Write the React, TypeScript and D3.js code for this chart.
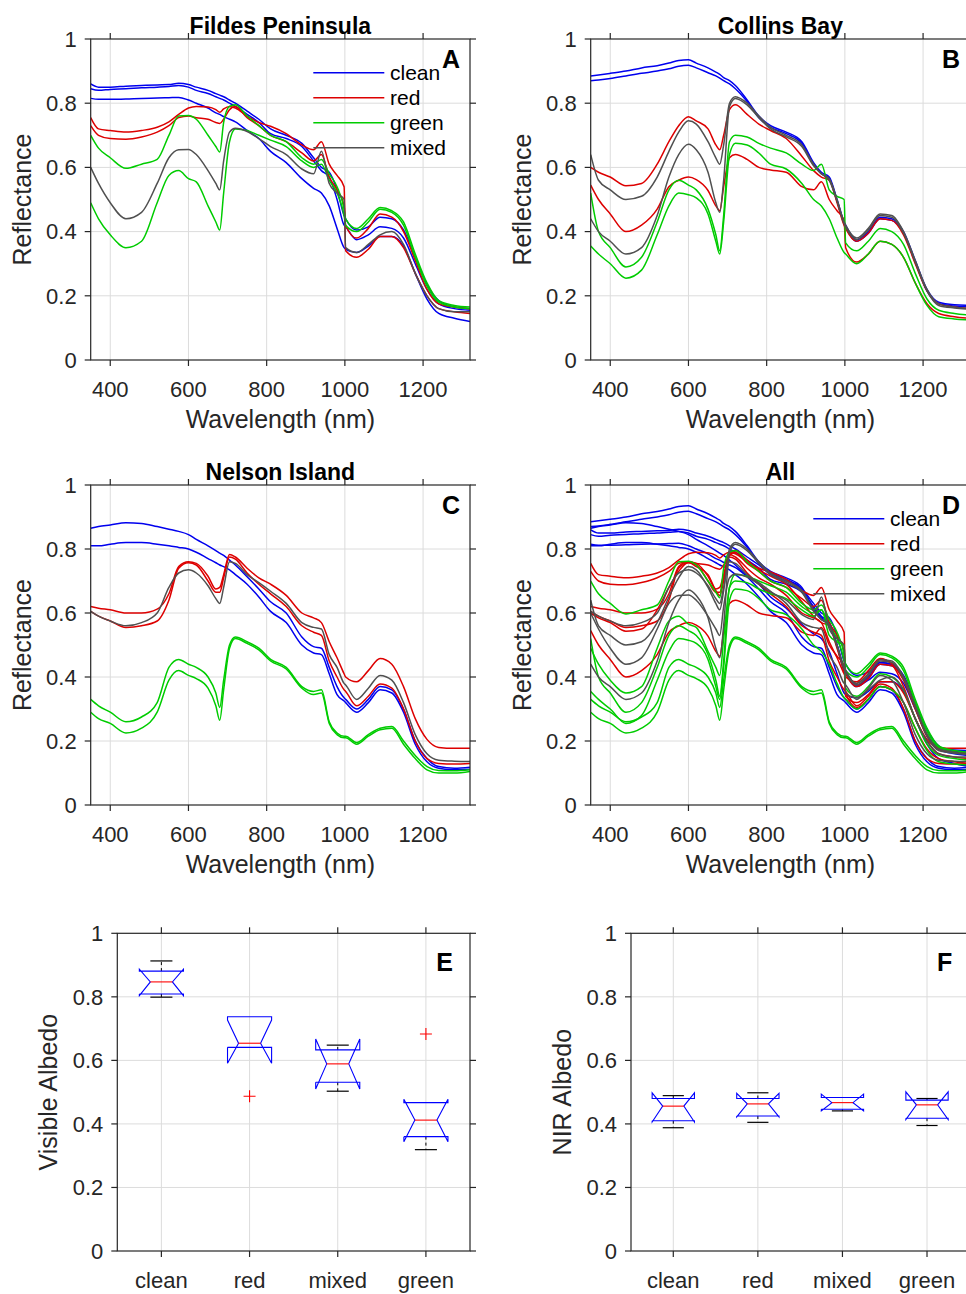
import React from "react";
import * as d3 from "d3";

// ---------- DATA ----------
const WAVELENGTHS = [350, 370, 400, 440, 480, 520, 550, 575, 600, 620, 650, 670, 680, 690, 705, 720, 750, 780, 810, 850, 890, 920, 940, 960, 980, 998, 1002, 1030, 1060, 1090, 1120, 1150, 1180, 1210, 1240, 1280, 1320];

// Fildes Peninsula
const fildesClean = [
  [.86, .85, .85, .853, .855, .857, .858, .862, .858, .85, .84, .83, .825, .82, .81, .80, .775, .75, .72, .70, .675, .63, .60, .585, .53, .45, .44, .405, .415, .445, .44, .405, .32, .235, .185, .165, .16],
  [.845, .84, .843, .845, .848, .85, .852, .855, .85, .84, .83, .82, .815, .81, .80, .79, .765, .74, .705, .69, .665, .62, .59, .57, .50, .42, .415, .375, .39, .415, .41, .38, .30, .22, .175, .16, .155],
  [.815, .812, .812, .813, .815, .816, .817, .818, .81, .80, .785, .77, .765, .758, .75, .742, .715, .69, .65, .615, .565, .535, .52, .48, .41, .35, .345, .335, .355, .385, .385, .355, .27, .19, .145, .13, .12],
];
const fildesRed = [
  [.755, .72, .715, .71, .715, .725, .742, .765, .785, .79, .788, .78, .772, .782, .79, .785, .76, .74, .728, .705, .67, .655, .68, .61, .575, .54, .34, .32, .345, .385, .385, .35, .27, .20, .16, .15, .145],
  [.73, .70, .69, .688, .695, .71, .73, .755, .76, .755, .75, .74, .737, .75, .78, .79, .755, .73, .70, .68, .645, .62, .64, .57, .53, .48, .42, .38, .41, .455, .445, .40, .31, .22, .175, .165, .16],
];
const fildesGreen = [
  [.70, .66, .63, .597, .61, .625, .70, .76, .762, .75, .70, .665, .648, .74, .79, .795, .76, .73, .70, .68, .63, .61, .625, .58, .54, .47, .44, .41, .44, .475, .465, .43, .33, .24, .185, .17, .165],
  [.49, .44, .39, .35, .37, .49, .575, .59, .565, .555, .48, .43, .405, .52, .68, .72, .715, .70, .685, .665, .62, .60, .61, .56, .52, .45, .42, .40, .43, .47, .46, .42, .32, .23, .18, .165, .16],
];
const fildesMixed = [
  [.60, .55, .49, .44, .46, .55, .63, .655, .656, .64, .59, .55, .53, .62, .71, .722, .712, .69, .665, .64, .595, .58, .65, .55, .52, .50, .35, .335, .36, .39, .40, .36, .27, .20, .16, .15, .15],
];

// Collins Bay
const collinsClean = [
  [.885, .888, .893, .90, .91, .917, .925, .933, .935, .925, .91, .897, .89, .88, .87, .855, .81, .76, .73, .71, .68, .615, .585, .57, .50, .43, .42, .375, .40, .445, .44, .40, .31, .22, .18, .172, .17],
  [.87, .872, .877, .885, .893, .90, .907, .915, .918, .91, .895, .885, .878, .87, .86, .845, .805, .755, .725, .705, .675, .61, .58, .565, .495, .425, .415, .37, .395, .44, .435, .395, .305, .215, .175, .168, .165],
];
const collinsRed = [
  [.60, .585, .57, .543, .55, .61, .68, .73, .758, .745, .72, .67, .655, .70, .78, .795, .765, .735, .715, .69, .635, .59, .57, .56, .49, .42, .41, .37, .395, .44, .435, .39, .30, .215, .175, .165, .16],
  [.545, .50, .455, .40, .42, .47, .54, .56, .57, .562, .528, .48, .465, .54, .63, .64, .625, .60, .592, .585, .54, .53, .555, .50, .465, .435, .35, .305, .33, .37, .36, .32, .24, .175, .145, .135, .13],
];
const collinsGreen = [
  [.52, .40, .35, .29, .32, .43, .53, .56, .545, .53, .47, .39, .34, .45, .68, .70, .695, .675, .66, .645, .61, .59, .61, .53, .51, .50, .365, .34, .37, .41, .40, .36, .27, .19, .155, .145, .14],
  [.355, .33, .30, .255, .28, .39, .48, .52, .515, .505, .455, .37, .33, .43, .64, .675, .67, .645, .61, .595, .55, .50, .48, .44, .38, .335, .33, .30, .33, .37, .36, .32, .24, .17, .135, .128, .125],
];
const collinsMixed = [
  [.64, .56, .53, .50, .51, .57, .65, .71, .745, .735, .68, .63, .61, .67, .80, .82, .80, .76, .725, .70, .67, .61, .58, .565, .50, .43, .42, .38, .41, .455, .45, .40, .31, .22, .175, .165, .16],
  [.44, .40, .37, .33, .35, .45, .57, .64, .672, .655, .585, .49, .46, .56, .79, .815, .795, .755, .72, .695, .665, .605, .58, .56, .495, .425, .415, .375, .405, .45, .445, .395, .305, .215, .17, .162, .158],
];

// Nelson Island
const nelsonClean = [
  [.865, .87, .875, .882, .88, .87, .862, .855, .845, .83, .81, .795, .787, .78, .765, .75, .713, .675, .635, .60, .525, .495, .49, .43, .37, .335, .33, .30, .33, .37, .36, .30, .20, .145, .12, .115, .118],
  [.81, .81, .815, .82, .82, .815, .81, .805, .80, .79, .77, .757, .75, .745, .735, .72, .69, .65, .605, .57, .50, .475, .47, .41, .345, .325, .32, .29, .32, .36, .35, .29, .19, .135, .115, .11, .112],
];
const nelsonRed = [
  [.62, .615, .61, .60, .60, .612, .66, .745, .76, .755, .715, .675, .68, .72, .783, .775, .74, .71, .69, .655, .60, .585, .57, .51, .46, .41, .40, .385, .42, .458, .44, .37, .27, .205, .18, .177, .177],
  [.605, .59, .575, .555, .56, .575, .64, .74, .757, .75, .70, .665, .665, .71, .775, .768, .725, .69, .66, .62, .56, .54, .53, .45, .40, .36, .355, .31, .34, .378, .365, .30, .20, .145, .13, .128, .13],
];
const nelsonGreen = [
  [.33, .31, .29, .26, .275, .32, .43, .455, .44, .43, .40, .35, .305, .39, .50, .525, .51, .49, .455, .43, .37, .355, .36, .26, .225, .215, .215, .195, .22, .24, .245, .20, .155, .12, .108, .107, .11],
  [.29, .27, .255, .225, .24, .29, .39, .42, .405, .395, .365, .31, .265, .36, .49, .52, .505, .485, .45, .425, .365, .345, .35, .255, .22, .21, .21, .19, .215, .235, .24, .19, .145, .11, .10, .10, .105],
];
const nelsonMixed = [
  [.605, .59, .575, .56, .57, .60, .68, .725, .735, .725, .685, .645, .63, .68, .76, .755, .72, .695, .668, .63, .57, .555, .55, .47, .43, .38, .375, .33, .365, .405, .39, .32, .22, .16, .14, .137, .136],
];

const X_TICKS = [400, 600, 800, 1000, 1200];
const Y_TICKS = [0, 0.2, 0.4, 0.6, 0.8, 1];
const LEGEND_LABELS = ["clean", "red", "green", "mixed"];

// Box plots
const BOX_CATEGORIES = ["clean", "red", "mixed", "green"];
const visibleMedian = [0.847, 0.654, 0.589, 0.412];
const visibleQ1 = [0.809, 0.641, 0.531, 0.36];
const visibleQ3 = [0.881, 0.7375, 0.633, 0.467];
const visibleNotchLo = [0.804, 0.591, 0.51, 0.344];
const visibleNotchHi = [0.887, 0.727, 0.667, 0.478];
const visibleWhiskerLo = [0.799, 0.641, 0.503, 0.319];
const visibleWhiskerHi = [0.913, 0.7375, 0.648, 0.467];
const visibleOutliers = [[], [0.487], [], [0.683]];

const nirMedian = [0.456, 0.463, 0.467, 0.46];
const nirQ1 = [0.41, 0.425, 0.446, 0.418];
const nirQ3 = [0.48, 0.48, 0.483, 0.475];
const nirNotchLo = [0.406, 0.422, 0.441, 0.414];
const nirNotchHi = [0.498, 0.496, 0.494, 0.501];
const nirWhiskerLo = [0.388, 0.405, 0.441, 0.395];
const nirWhiskerHi = [0.489, 0.498, 0.483, 0.48];
const nirOutliers = [[], [], [], []];

// ---------- STYLE ----------
const FONT = "'Liberation Sans', Arial, Helvetica, sans-serif";
const AXIS = "#262626";
const GRID = "#dcdcdc";
const COLORS = { clean: "#0000ee", red: "#dd0000", green: "#00cc00", mixed: "#505050" };

type Series = { color: string; values: number[] };

function groupSeries(clean: number[][], red: number[][], green: number[][], mixed: number[][]): Series[] {
  return [
    ...clean.map((v) => ({ color: COLORS.clean, values: v })),
    ...red.map((v) => ({ color: COLORS.red, values: v })),
    ...green.map((v) => ({ color: COLORS.green, values: v })),
    ...mixed.map((v) => ({ color: COLORS.mixed, values: v })),
  ];
}

function Frame({ left, right, top, bottom, xTicks, yTicks, x, y }: any) {
  const tl = 6;
  return (
    <g>
      <rect x={left} y={top} width={right - left} height={bottom - top} fill="none" stroke={AXIS} strokeWidth={1.2} />
      {xTicks.map((t: number) => (
        <g key={"xt" + t}>
          <line x1={x(t)} x2={x(t)} y1={bottom} y2={bottom + tl} stroke={AXIS} strokeWidth={1.2} />
          <line x1={x(t)} x2={x(t)} y1={top} y2={top - tl} stroke={AXIS} strokeWidth={1.2} />
        </g>
      ))}
      {yTicks.map((t: number) => (
        <g key={"yt" + t}>
          <line x1={left - tl} x2={left} y1={y(t)} y2={y(t)} stroke={AXIS} strokeWidth={1.2} />
          <line x1={right} x2={right + tl} y1={y(t)} y2={y(t)} stroke={AXIS} strokeWidth={1.2} />
        </g>
      ))}
    </g>
  );
}

function Grid({ left, right, top, bottom, xTicks, yTicks, x, y }: any) {
  return (
    <g>
      {xTicks.map((t: number) => (
        <line key={"gx" + t} x1={x(t)} x2={x(t)} y1={top} y2={bottom} stroke={GRID} strokeWidth={1} />
      ))}
      {yTicks.filter((t: number) => t > 0 && t < 1).map((t: number) => (
        <line key={"gy" + t} x1={left} x2={right} y1={y(t)} y2={y(t)} stroke={GRID} strokeWidth={1} />
      ))}
    </g>
  );
}

function YTickLabels({ left, y, yTicks }: any) {
  return (
    <g>
      {yTicks.map((t: number) => (
        <text key={"yl" + t} x={left - 14} y={y(t)} dy="0.35em" textAnchor="end" fontSize={22} fill={AXIS} fontFamily={FONT}>
          {String(t)}
        </text>
      ))}
    </g>
  );
}

function SpectraPanel({ left, right, top, bottom, title, letter, series, legend }: any) {
  const x = d3.scaleLinear().domain([350, 1320]).range([left, right]);
  const y = d3.scaleLinear().domain([0, 1]).range([bottom, top]);
  const line = d3
    .line<[number, number]>()
    .x((d) => x(d[0]))
    .y((d) => y(d[1]))
    .curve(d3.curveMonotoneX);
  const clipId = "clip-" + letter;
  const legendColors = [COLORS.clean, COLORS.red, COLORS.green, COLORS.mixed];
  return (
    <g>
      <defs>
        <clipPath id={clipId}>
          <rect x={left} y={top} width={right - left} height={bottom - top} />
        </clipPath>
      </defs>
      <Grid left={left} right={right} top={top} bottom={bottom} xTicks={X_TICKS} yTicks={Y_TICKS} x={x} y={y} />
      <g clipPath={`url(#${clipId})`}>
        {series.map((s: Series, i: number) => (
          <path
            key={i}
            d={line(WAVELENGTHS.map((w, j) => [w, s.values[j]] as [number, number])) || ""}
            fill="none"
            stroke={s.color}
            strokeWidth={1.5}
            strokeLinejoin="round"
          />
        ))}
      </g>
      <Frame left={left} right={right} top={top} bottom={bottom} xTicks={X_TICKS} yTicks={Y_TICKS} x={x} y={y} />
      {X_TICKS.map((t) => (
        <text key={"xl" + t} x={x(t)} y={bottom + 37} textAnchor="middle" fontSize={22} fill={AXIS} fontFamily={FONT}>
          {t}
        </text>
      ))}
      <YTickLabels left={left} y={y} yTicks={Y_TICKS} />
      <text x={(left + right) / 2} y={bottom + 68} textAnchor="middle" fontSize={25} fill={AXIS} fontFamily={FONT}>
        Wavelength (nm)
      </text>
      <text
        transform={`translate(${left - 59.5},${(top + bottom) / 2}) rotate(-90)`}
        textAnchor="middle"
        fontSize={25}
        fill={AXIS}
        fontFamily={FONT}
      >
        Reflectance
      </text>
      <text x={(left + right) / 2} y={top - 5} textAnchor="middle" fontSize={23} fontWeight="bold" fill="#000" fontFamily={FONT}>
        {title}
      </text>
      <text x={right - 10} y={top + 29} textAnchor="end" fontSize={25} fontWeight="bold" fill="#000" fontFamily={FONT}>
        {letter}
      </text>
      {legend &&
        LEGEND_LABELS.map((lab, i) => (
          <g key={lab}>
            <line x1={left + 222.6} x2={left + 293.6} y1={top + 33.7 + i * 25} y2={top + 33.7 + i * 25} stroke={legendColors[i]} strokeWidth={1.5} />
            <text x={left + 299.3} y={top + 33.7 + i * 25} dy="0.35em" fontSize={21} fill="#000" fontFamily={FONT}>
              {lab}
            </text>
          </g>
        ))}
    </g>
  );
}

function BoxPanel({ left, right, top, bottom, letter, ylabel, stats }: any) {
  const x = d3.scaleLinear().domain([0.5, 4.5]).range([left, right]);
  const y = d3.scaleLinear().domain([0, 1]).range([bottom, top]);
  const catTicks = [1, 2, 3, 4];
  const { med, q1, q3, nlo, nhi, wlo, whi, out } = stats;
  return (
    <g>
      <Grid left={left} right={right} top={top} bottom={bottom} xTicks={catTicks} yTicks={Y_TICKS} x={x} y={y} />
      {catTicks.map((c, i) => {
        const cx = x(c);
        const L = x(c - 0.25);
        const R = x(c + 0.25);
        const nL = x(c - 0.125);
        const nR = x(c + 0.125);
        const cL = x(c - 0.125);
        const cR = x(c + 0.125);
        const pts: [number, number][] = [
          [L, y(q1[i])],
          [L, y(nlo[i])],
          [nL, y(med[i])],
          [L, y(nhi[i])],
          [L, y(q3[i])],
          [R, y(q3[i])],
          [R, y(nhi[i])],
          [nR, y(med[i])],
          [R, y(nlo[i])],
          [R, y(q1[i])],
          [L, y(q1[i])],
        ];
        const boxPath = d3.line()(pts) || "";
        return (
          <g key={c}>
            {whi[i] > q3[i] && (
              <>
                <line x1={cx} x2={cx} y1={y(q3[i])} y2={y(whi[i])} stroke="#000" strokeWidth={1} strokeDasharray="3,3" />
                <line x1={cL} x2={cR} y1={y(whi[i])} y2={y(whi[i])} stroke="#000" strokeWidth={1.2} />
              </>
            )}
            {wlo[i] < q1[i] && (
              <>
                <line x1={cx} x2={cx} y1={y(q1[i])} y2={y(wlo[i])} stroke="#000" strokeWidth={1} strokeDasharray="3,3" />
                <line x1={cL} x2={cR} y1={y(wlo[i])} y2={y(wlo[i])} stroke="#000" strokeWidth={1.2} />
              </>
            )}
            <path d={boxPath} fill="none" stroke="#0000ff" strokeWidth={1.1} />
            <line x1={nL} x2={nR} y1={y(med[i])} y2={y(med[i])} stroke="#ff0000" strokeWidth={1.1} />
            {out[i].map((o: number, k: number) => (
              <path key={k} d={`M${cx - 6},${y(o)}H${cx + 6}M${cx},${y(o) - 6}V${y(o) + 6}`} stroke="#ff0000" strokeWidth={1.1} fill="none" />
            ))}
          </g>
        );
      })}
      <Frame left={left} right={right} top={top} bottom={bottom} xTicks={catTicks} yTicks={Y_TICKS} x={x} y={y} />
      {catTicks.map((c, i) => (
        <text key={"cl" + c} x={x(c)} y={bottom + 37} textAnchor="middle" fontSize={22} fill={AXIS} fontFamily={FONT}>
          {BOX_CATEGORIES[i]}
        </text>
      ))}
      <YTickLabels left={left} y={y} yTicks={Y_TICKS} />
      <text
        transform={`translate(${left - 60},${(top + bottom) / 2}) rotate(-90)`}
        textAnchor="middle"
        fontSize={25}
        fill={AXIS}
        fontFamily={FONT}
      >
        {ylabel}
      </text>
      <text x={right - 17} y={top + 38} textAnchor="end" fontSize={25} fontWeight="bold" fill="#000" fontFamily={FONT}>
        {letter}
      </text>
    </g>
  );
}

export default function App() {
  const fildes = groupSeries(fildesClean, fildesRed, fildesGreen, fildesMixed);
  const collins = groupSeries(collinsClean, collinsRed, collinsGreen, collinsMixed);
  const nelson = groupSeries(nelsonClean, nelsonRed, nelsonGreen, nelsonMixed);
  const all = groupSeries(
    [...fildesClean, ...collinsClean, ...nelsonClean],
    [...fildesRed, ...collinsRed, ...nelsonRed],
    [...fildesGreen, ...collinsGreen, ...nelsonGreen],
    [...fildesMixed, ...collinsMixed, ...nelsonMixed]
  );
  const visStats = {
    med: visibleMedian, q1: visibleQ1, q3: visibleQ3, nlo: visibleNotchLo, nhi: visibleNotchHi,
    wlo: visibleWhiskerLo, whi: visibleWhiskerHi, out: visibleOutliers,
  };
  const nirStats = {
    med: nirMedian, q1: nirQ1, q3: nirQ3, nlo: nirNotchLo, nhi: nirNotchHi,
    wlo: nirWhiskerLo, whi: nirWhiskerHi, out: nirOutliers,
  };
  return (
    <div style={{ position: "absolute", left: 0, top: 0, width: 966, height: 1294, overflow: "hidden", background: "#fff" }}>
      <svg width={966} height={1294} style={{ display: "block" }}>
        <rect x={0} y={0} width={966} height={1294} fill="#fff" />
        <SpectraPanel left={90.7} right={470} top={39} bottom={360} title="Fildes Peninsula" letter="A" series={fildes} legend />
        <SpectraPanel left={590.7} right={970} top={39} bottom={360} title="Collins Bay" letter="B" series={collins} />
        <SpectraPanel left={90.7} right={470} top={485} bottom={805} title="Nelson Island" letter="C" series={nelson} />
        <SpectraPanel left={590.7} right={970} top={485} bottom={805} title="All" letter="D" series={all} legend />
        <BoxPanel left={117.3} right={470} top={933.3} bottom={1251} letter="E" ylabel="Visible Albedo" stats={visStats} />
        <BoxPanel left={631} right={969.3} top={933.3} bottom={1251} letter="F" ylabel="NIR Albedo" stats={nirStats} />
      </svg>
    </div>
  );
}
